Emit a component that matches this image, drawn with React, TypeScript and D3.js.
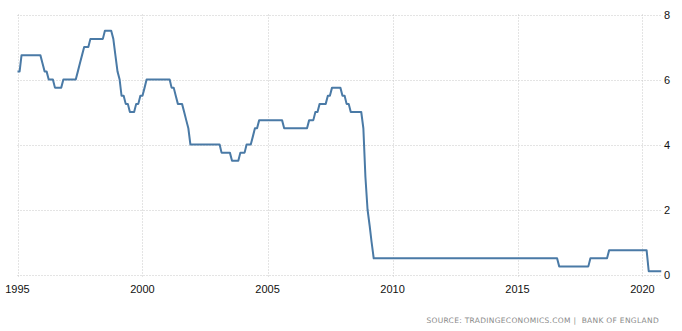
import * as React from 'react';
import * as d3 from 'd3';

// Bank of England bank rate, month-end values at the months where the line bends
const months = [
  '1994-12', '1995-01', '1995-02', '1995-11', '1995-12', '1996-01', '1996-02', '1996-03',
  '1996-05', '1996-06', '1996-09', '1996-10', '1997-04', '1997-05', '1997-06', '1997-07',
  '1997-08', '1997-10', '1997-11', '1998-05', '1998-06', '1998-09', '1998-10', '1998-11',
  '1998-12', '1999-01', '1999-02', '1999-03', '1999-04', '1999-05', '1999-06', '1999-08',
  '1999-09', '1999-10', '1999-11', '1999-12', '2000-01', '2000-02', '2001-01', '2001-02',
  '2001-03', '2001-04', '2001-05', '2001-07', '2001-08', '2001-09', '2001-10', '2001-11',
  '2003-01', '2003-02', '2003-06', '2003-07', '2003-10', '2003-11', '2004-01', '2004-02',
  '2004-04', '2004-05', '2004-06', '2004-07', '2004-08', '2005-07', '2005-08', '2006-07',
  '2006-08', '2006-10', '2006-11', '2006-12', '2007-01', '2007-04', '2007-05', '2007-06',
  '2007-07', '2007-11', '2007-12', '2008-01', '2008-02', '2008-03', '2008-04', '2008-09',
  '2008-10', '2008-11', '2008-12', '2009-01', '2009-02', '2009-03', '2016-07', '2016-08',
  '2017-10', '2017-11', '2018-07', '2018-08', '2020-02', '2020-03', '2020-09',
];
const rates = [
  6.25, 6.25, 6.75, 6.75, 6.5, 6.25, 6.25, 6.0,
  6.0, 5.75, 5.75, 6.0, 6.0, 6.25, 6.5, 6.75,
  7.0, 7.0, 7.25, 7.25, 7.5, 7.5, 7.25, 6.75,
  6.25, 6.0, 5.5, 5.5, 5.25, 5.25, 5.0, 5.0,
  5.25, 5.25, 5.5, 5.5, 5.75, 6.0, 6.0, 5.75,
  5.75, 5.5, 5.25, 5.25, 5.0, 4.75, 4.5, 4.0,
  4.0, 3.75, 3.75, 3.5, 3.5, 3.75, 3.75, 4.0,
  4.0, 4.25, 4.5, 4.5, 4.75, 4.75, 4.5, 4.5,
  4.75, 4.75, 5.0, 5.0, 5.25, 5.25, 5.5, 5.5,
  5.75, 5.75, 5.5, 5.5, 5.25, 5.25, 5.0, 5.0,
  4.5, 3.0, 2.0, 1.5, 1.0, 0.5, 0.5, 0.25,
  0.25, 0.5, 0.5, 0.75, 0.75, 0.1, 0.1,
];
const yearTicks = [1995, 2000, 2005, 2010, 2015, 2020];
const rateTicks = [0, 2, 4, 6, 8];
const source = 'SOURCE: TRADINGECONOMICS.COM |  BANK OF ENGLAND';

const width = 682;
const height = 331;
const left = 17.5;
const right = 661;
const top = 14.5;
const bottom = 274.5;

const parseMonth = d3.timeParse('%Y-%m');
// each monthly value sits at the end of its month
const data = months.map((m, i) => ({
  date: d3.timeMonth.offset(parseMonth(m) as Date, 1),
  value: rates[i],
}));

const App = () => {
  const x = d3
    .scaleTime()
    .domain([new Date(1995, 0, 1), new Date(2020, 9, 1)])
    .range([left, 661.25]);
  const y = d3.scaleLinear().domain([0, 8]).range([bottom, top]);
  const line = d3
    .line<{ date: Date; value: number }>()
    .x((d) => x(d.date))
    .y((d) => y(d.value));

  const font = '"Liberation Sans", Arial, sans-serif';

  return (
    <svg
      width={width}
      height={height}
      style={{ position: 'absolute', left: 0, top: 0, background: '#fff' }}>
      <g className='grid' stroke='#c8c8c8' strokeWidth={1} strokeDasharray='1,2'>
        {rateTicks.map((t) => (
          <line key={t} x1={left} x2={right} y1={Math.round(y(t)) + 0.5} y2={Math.round(y(t)) + 0.5} />
        ))}
        {yearTicks.map((t) => {
          const px = Math.round(x(new Date(t, 0, 1))) + 0.5;
          return <line key={t} x1={px} x2={px} y1={top} y2={bottom + 4} />;
        })}
      </g>
      <path d={line(data) ?? ''} fill='none' stroke='#4a7aa6' strokeWidth={2} strokeLinejoin='round' />
      <g fontFamily={font} fontSize={11} fill='#111'>
        {rateTicks.map((t) => (
          <text key={t} x={664} y={y(t) + 4}>
            {t}
          </text>
        ))}
        {yearTicks.map((t) => (
          <text key={t} x={x(new Date(t, 0, 1))} y={293} textAnchor='middle'>
            {t}
          </text>
        ))}
      </g>
      <text
        x={659}
        y={322.5}
        textAnchor='end'
        fontFamily='"DejaVu Sans", sans-serif'
        fontSize={7.5}
        letterSpacing={0.3}
        fill='#8a8a8a'
        style={{ whiteSpace: 'pre' }}>
        {source}
      </text>
    </svg>
  );
};

export default App;
